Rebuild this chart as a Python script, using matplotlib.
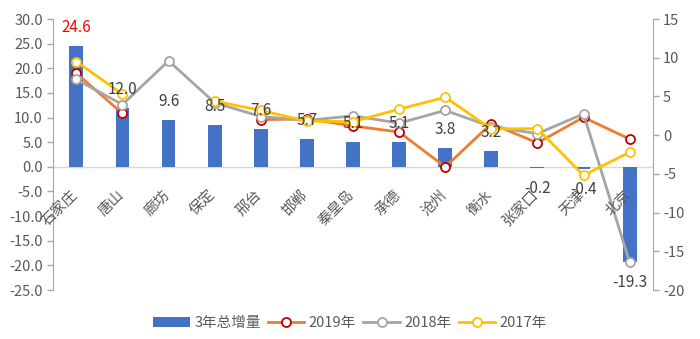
import numpy as np
import matplotlib
matplotlib.use('Agg')
import matplotlib.pyplot as plt

plt.rcParams['font.family'] = ['Noto Sans CJK SC', 'DejaVu Sans']
plt.rcParams['axes.unicode_minus'] = False

# data
cities = ['石家庄', '唐山', '廊坊', '保定', '邢台', '邯郸', '秦皇岛',
          '承德', '沧州', '衡水', '张家口', '天津', '北京']
total3 = [24.6, 12.0, 9.6, 8.5, 7.6, 5.7, 5.1, 5.1, 3.8, 3.2, -0.2, -0.4, -19.3]
y2019 = [8.0, 2.8, np.nan, np.nan, 2.0, 2.1, 1.2, 0.4, -4.1, 1.5, -1.0, 2.3, -0.5]
y2018 = [7.2, 3.95, 9.6, 4.2, 2.4, 1.9, 2.5, 1.55, 3.2, 1.1, 0.2, 2.75, -16.4]
y2017 = [9.5, 5.3, np.nan, 4.4, 3.2, 1.8, 1.75, 3.35, 4.9, 0.8, 0.85, -5.2, -2.2]

txt = '#595959'
axc = '#A6A6A6'

fig = plt.figure(figsize=(7, 3.39), dpi=100)
ax1 = fig.add_axes([0.0761, 0.1445, 0.8563, 0.7994])
ax2 = ax1.twinx()

x = np.arange(len(cities))
bars = ax1.bar(x, total3, width=0.3, color='#4472C4', zorder=2, label='3年总增量')
ax1.axhline(0, color='#D9D9D9', lw=1, zorder=1)

ax1.set_xlim(-0.5, len(cities) - 0.5)
ax1.set_ylim(-25, 30)
ax1.set_yticks(np.arange(-25, 31, 5))
ax1.set_yticklabels(['%.1f' % v for v in np.arange(-25, 31, 5)])
ax2.set_ylim(-20, 15)
ax2.set_yticks(np.arange(-20, 16, 5))

for a in (ax1, ax2):
    for s in a.spines.values():
        s.set_visible(False)
    a.tick_params(colors=axc, labelcolor=txt, labelsize=10.5, length=4, width=1)
ax1.spines['left'].set_visible(True)
ax1.spines['left'].set_color(axc)
ax2.spines['right'].set_visible(True)
ax2.spines['right'].set_color(axc)
ax1.set_xticks([])

# lines on right axis
l19, = ax2.plot(x, y2019, color='#ED7D31', lw=2, marker='o', ms=6.5,
                mfc='white', mec='#C00000', mew=1.3, zorder=3, label='2019年')
l18, = ax2.plot(x, y2018, color='#A5A5A5', lw=2, marker='o', ms=6.5,
                mfc='white', mec='#A5A5A5', mew=1.3, zorder=4, label='2018年')
l17, = ax2.plot(x, y2017, color='#FFC000', lw=2, marker='o', ms=6.5,
                mfc='white', mec='#FFC000', mew=1.3, zorder=5, label='2017年')

# category labels next to zero line
for i, c in enumerate(cities):
    ax2.annotate(c, xy=(i, 0), xycoords=ax1.transData, xytext=(4, -21),
                 textcoords='offset pixels', ha='right', va='top',
                 rotation=45, fontsize=10.5, color=txt, zorder=6)

# bar value labels
for i, v in enumerate(total3):
    col = 'red' if i == 0 else '#404040'
    off = 10 if v >= 0 else -12
    ax2.annotate('%.1f' % v, xy=(i, v), xycoords=ax1.transData,
                 xytext=(0, off), textcoords='offset pixels', ha='center',
                 va='bottom' if v >= 0 else 'top', fontsize=11, color=col,
                 zorder=7)

fig.legend(handles=[bars, l19, l18, l17], loc='center', bbox_to_anchor=(0.5, 0.047),
           ncol=4, frameon=False, fontsize=10.5, labelcolor=txt,
           handlelength=2.5, handletextpad=0.3, columnspacing=0.5)

fig.savefig('out.png', dpi=100)
